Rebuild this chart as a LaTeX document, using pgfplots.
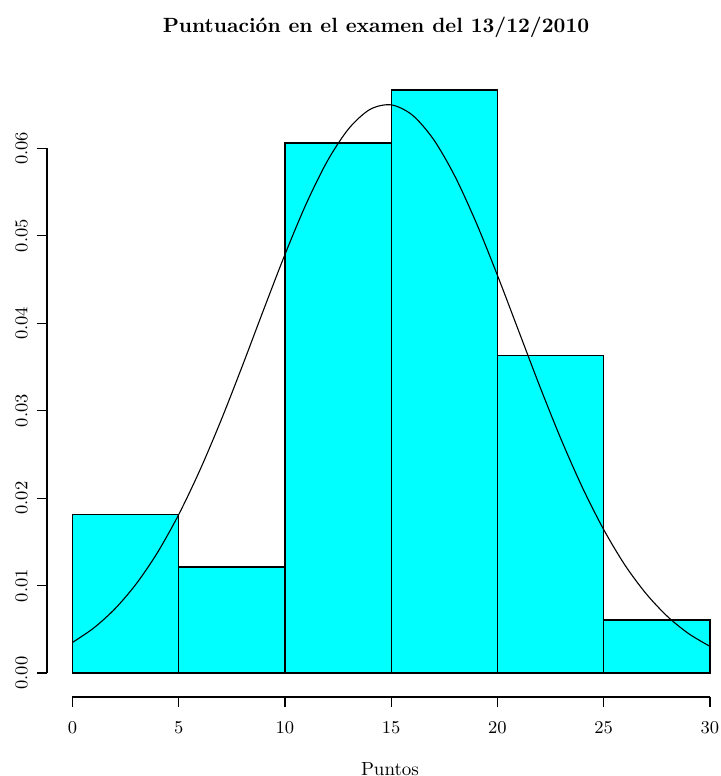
\documentclass[border=0pt]{standalone}
\usepackage{pgfplots}
\pgfplotsset{compat=1.18}
\definecolor{rcyan}{rgb}{0,1,1}
\begin{document}
\begin{tikzpicture}
\begin{axis}[
  name=ax, at={(0,0)}, anchor=south west,
  scale only axis, width=337pt, height=315pt,
  xmin=-1.2, xmax=30.52, ymin=-0.00274, ymax=0.0693,
  axis lines=left, axis line style={draw=none},
  tick align=outside, major tick length=5pt,
  tick style={black, line width=0.55pt},
  xtick={0,5,10,15,20,25,30},
  ytick={0,0.01,0.02,0.03,0.04,0.05,0.06},
  scaled y ticks=false,
  tick label style={font=\fontsize{9.5}{11}\selectfont},
  xticklabel style={anchor=base, inner sep=0pt, yshift=-13pt},
  yticklabel style={xshift=-4.75pt, rotate=90, anchor=base, inner sep=0pt,
    /pgf/number format/.cd, fixed, fixed zerofill, precision=2},
  clip=false,
]
\addplot[ybar interval, fill=rcyan, draw=black, line width=0.55pt] coordinates {
(0,0.01818) (5,0.01212) (10,0.06061) (15,0.06667) (20,0.03636) (25,0.00606) (30,0.00606)};
\addplot[black, line width=0.55pt, smooth] coordinates {
(0,0.00350) (1,0.00515) (2,0.00735) (3,0.01020) (4,0.01378) (5,0.01813)
(6,0.02322) (7,0.02895) (8,0.03516) (9,0.04158) (10,0.04787) (11,0.05366)
(12,0.05857) (13,0.06225) (14,0.06445) (15,0.06497) (16,0.06379)
(17,0.06099) (18,0.05679) (19,0.05149) (20,0.04547) (21,0.03910) (22,0.03273)
(23,0.02669) (24,0.02120) (25,0.01640) (26,0.01234) (27,0.00906) (28,0.00647)
(29,0.00450) (30,0.00305)};
\draw[black, line width=0.55pt] (axis cs:0,-0.00274) -- (axis cs:30,-0.00274);
\draw[black, line width=0.55pt] (axis cs:-1.2,0) -- (axis cs:-1.2,0.06);
\end{axis}
\node[anchor=base, font=\fontsize{10.3}{12}\selectfont\bfseries] at ([shift={(164.5pt,332pt)}]ax.south west) {Puntuación en el examen del 13/12/2010};
\node[anchor=base, font=\fontsize{9.5}{11}\selectfont] at ([shift={(171.5pt,-39pt)}]ax.south west) {Puntos};
\pgfresetboundingbox
\path ([shift={(-23.5pt,-39.5pt)}]ax.south west) rectangle ([shift={(337pt,348.5pt)}]ax.south west);
\end{tikzpicture}
\end{document}
